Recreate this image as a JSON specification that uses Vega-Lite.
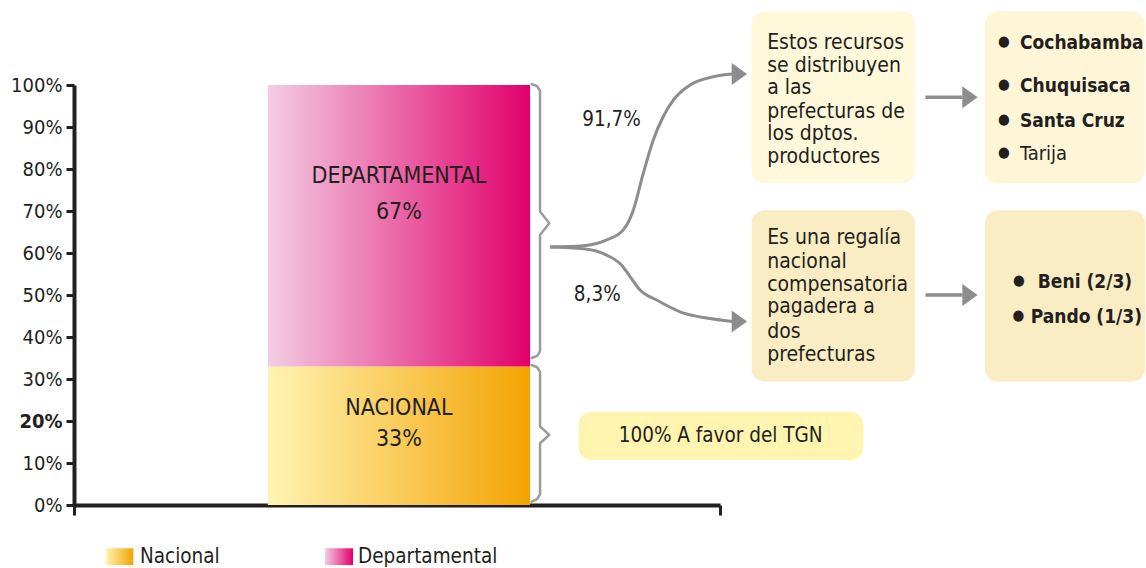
{
  "$schema": "https://vega.github.io/schema/vega-lite/v6.json",
  "width": 646,
  "height": 420,
  "autosize": {"type": "none"},
  "padding": {"left": 74, "top": 85, "right": 426, "bottom": 63},
  "background": "white",
  "config": {
    "view": {"stroke": null},
    "font": "DejaVu Sans Condensed, Liberation Sans, sans-serif",
    "text": {"font": "DejaVu Sans Condensed, Liberation Sans, sans-serif", "fontSize": 21, "color": "#231f20", "baseline": "middle"}
  },
  "datasets": {
    "boxes": [
      {"id": "recursos", "x": 104.9, "x2": 130.2, "y": 76.6, "y2": 117.5},
      {"id": "deptos", "x": 141.0, "x2": 165.8, "y": 76.6, "y2": 117.5},
      {"id": "regalia", "x": 104.9, "x2": 130.2, "y": 29.4, "y2": 70.2},
      {"id": "beni", "x": 141.0, "x2": 165.8, "y": 29.4, "y2": 70.2},
      {"id": "tgn", "x": 78.1, "x2": 122.2, "y": 10.7, "y2": 22.2}
    ],
    "bars": [
      {"segment": "Nacional", "from": 0, "to": 33},
      {"segment": "Departamental", "from": 33, "to": 100}
    ],
    "barLabels": [
      {"text": "DEPARTAMENTAL", "x": 50.3, "y": 78.3},
      {"text": "67%", "x": 50.3, "y": 69.8},
      {"text": "NACIONAL", "x": 50.3, "y": 23.1},
      {"text": "33%", "x": 50.3, "y": 15.7}
    ],
    "braces": [
      {"brace": "D", "i": 0, "x": 70.85, "y": 100.2},
      {"brace": "D", "i": 1, "x": 71.7, "y": 99.7},
      {"brace": "D", "i": 2, "x": 72.14, "y": 98.6},
      {"brace": "D", "i": 3, "x": 72.14, "y": 69.9},
      {"brace": "D", "i": 4, "x": 73.58, "y": 67.1},
      {"brace": "D", "i": 5, "x": 72.14, "y": 64.3},
      {"brace": "D", "i": 6, "x": 72.14, "y": 36.6},
      {"brace": "D", "i": 7, "x": 71.7, "y": 35.5},
      {"brace": "D", "i": 8, "x": 70.85, "y": 35.0},
      {"brace": "N", "i": 0, "x": 70.85, "y": 33.3},
      {"brace": "N", "i": 1, "x": 71.7, "y": 32.8},
      {"brace": "N", "i": 2, "x": 72.14, "y": 31.7},
      {"brace": "N", "i": 3, "x": 72.14, "y": 18.7},
      {"brace": "N", "i": 4, "x": 73.58, "y": 16.7},
      {"brace": "N", "i": 5, "x": 72.14, "y": 14.7},
      {"brace": "N", "i": 6, "x": 72.14, "y": 2.6},
      {"brace": "N", "i": 7, "x": 71.7, "y": 1.4},
      {"brace": "N", "i": 8, "x": 70.85, "y": 0.8}
    ],
    "flows": [
      {"flow": "up", "i": 0, "x": 73.68, "y": 61.4},
      {"flow": "up", "i": 1, "x": 78.84, "y": 61.7},
      {"flow": "up", "i": 2, "x": 82.46, "y": 63.1},
      {"flow": "up", "i": 3, "x": 85.03, "y": 65.5},
      {"flow": "up", "i": 4, "x": 86.58, "y": 70.2},
      {"flow": "up", "i": 5, "x": 88.13, "y": 79.0},
      {"flow": "up", "i": 6, "x": 89.67, "y": 86.9},
      {"flow": "up", "i": 7, "x": 91.22, "y": 92.5},
      {"flow": "up", "i": 8, "x": 92.77, "y": 96.4},
      {"flow": "up", "i": 9, "x": 95.36, "y": 100.0},
      {"flow": "up", "i": 10, "x": 98.96, "y": 101.97},
      {"flow": "up", "i": 11, "x": 101.9, "y": 102.6},
      {"flow": "down", "i": 0, "x": 73.68, "y": 61.4},
      {"flow": "down", "i": 1, "x": 78.84, "y": 61.0},
      {"flow": "down", "i": 2, "x": 82.46, "y": 59.5},
      {"flow": "down", "i": 3, "x": 84.78, "y": 57.1},
      {"flow": "down", "i": 4, "x": 86.07, "y": 54.4},
      {"flow": "down", "i": 5, "x": 87.62, "y": 51.2},
      {"flow": "down", "i": 6, "x": 90.2, "y": 48.8},
      {"flow": "down", "i": 7, "x": 93.81, "y": 46.0},
      {"flow": "down", "i": 8, "x": 97.94, "y": 44.5},
      {"flow": "down", "i": 9, "x": 101.9, "y": 43.7}
    ],
    "arrowheads": [
      {"x": 103.0, "y": 102.6},
      {"x": 103.0, "y": 43.7},
      {"x": 138.7, "y": 97.1},
      {"x": 138.7, "y": 50.0}
    ],
    "connectors": [
      {"x": 131.8, "x2": 137.5, "y": 97.1},
      {"x": 131.8, "x2": 137.5, "y": 50.0}
    ],
    "flowLabels": [
      {"text": "91,7%", "x": 83.2, "y": 91.7},
      {"text": "8,3%", "x": 81.0, "y": 50.0}
    ],
    "notes": [
      {"text": "Estos recursos", "x": 107.3, "y": 109.9},
      {"text": "se distribuyen", "x": 107.3, "y": 104.5},
      {"text": "a las", "x": 107.3, "y": 99.2},
      {"text": "prefecturas de", "x": 107.3, "y": 93.6},
      {"text": "los dptos.", "x": 107.3, "y": 88.3},
      {"text": "productores", "x": 107.3, "y": 82.9},
      {"text": "Es una regalía", "x": 107.3, "y": 63.5},
      {"text": "nacional", "x": 107.3, "y": 57.9},
      {"text": "compensatoria", "x": 107.3, "y": 52.4},
      {"text": "pagadera a", "x": 107.3, "y": 47.1},
      {"text": "dos", "x": 107.3, "y": 41.3},
      {"text": "prefecturas", "x": 107.3, "y": 35.7}
    ],
    "bullets": [
      {"x": 143.96, "y": 109.9},
      {"x": 143.96, "y": 99.7},
      {"x": 143.96, "y": 91.4},
      {"x": 143.96, "y": 83.5},
      {"x": 146.28, "y": 53.1},
      {"x": 146.2, "y": 44.8}
    ],
    "bulletsBold": [
      {"text": "Cochabamba", "x": 146.44, "y": 109.9},
      {"text": "Chuquisaca", "x": 146.44, "y": 99.7},
      {"text": "Santa Cruz", "x": 146.44, "y": 91.4},
      {"text": "Beni (2/3)", "x": 149.2, "y": 53.1},
      {"text": "Pando (1/3)", "x": 148.1, "y": 44.8}
    ],
    "bulletsNormal": [
      {"text": "Tarija", "x": 146.44, "y": 83.5}
    ],
    "tgn": [
      {"text": "100% A favor del TGN", "x": 100.1, "y": 16.4}
    ],
    "legend": [
      {"serie": "Nacional", "x": 4.95, "x2": 9.18, "y": -14.3, "y2": -10.3, "tx": 10.2, "ty": -12.3},
      {"serie": "Departamental", "x": 38.85, "x2": 43.2, "y": -14.3, "y2": -10.3, "tx": 43.96, "ty": -12.3}
    ]
  },
  "layer": [
    {
      "data": {"name": "boxes"},
      "mark": {"type": "rect", "cornerRadius": 13},
      "encoding": {
        "x": {
          "field": "x", "type": "quantitative", "title": null,
          "scale": {"domain": [0, 100], "nice": false, "zero": false},
          "axis": {"values": [0, 100], "labels": false, "grid": false, "title": null,
                   "domainColor": "#231f20", "domainWidth": 4, "tickColor": "#231f20", "tickWidth": 3, "tickSize": 10}
        },
        "x2": {"field": "x2"},
        "y": {
          "field": "y", "type": "quantitative", "title": null,
          "scale": {"domain": [0, 100], "nice": false, "zero": false},
          "axis": {"values": [0, 10, 20, 30, 40, 50, 60, 70, 80, 90, 100], "labelExpr": "datum.value + '%'",
                   "grid": false, "title": null, "labelFlush": false, "labelOverlap": false,
                   "labelFont": "DejaVu Sans Condensed, Liberation Sans, sans-serif",
                   "labelFontSize": 20, "labelColor": "#231f20", "labelPadding": 4,
                   "labelFontWeight": {"condition": {"test": "datum.value === 20", "value": "bold"}, "value": "normal"},
                   "domainColor": "#231f20", "domainWidth": 4, "tickColor": "#231f20", "tickWidth": 3, "tickSize": 8}
        },
        "y2": {"field": "y2"},
        "fill": {"field": "id", "type": "nominal", "legend": null,
                 "scale": {"domain": ["recursos", "deptos", "regalia", "beni", "tgn"],
                           "range": ["#fff8da", "#fff6d8", "#faedc3", "#faedc3", "#fff4b0"]}}
      }
    },
    {
      "data": {"name": "bars"},
      "transform": [{"filter": "datum.segment === 'Nacional'"}],
      "mark": {"type": "rect", "fill": {"gradient": "linear", "x1": 0, "y1": 0, "x2": 1, "y2": 0,
               "stops": [{"offset": 0, "color": "#fff4b4"}, {"offset": 1, "color": "#f4a300"}]}},
      "encoding": {
        "x": {"datum": 30.0, "type": "quantitative"},
        "x2": {"datum": 70.6},
        "y": {"field": "from", "type": "quantitative"},
        "y2": {"field": "to"}
      }
    },
    {
      "data": {"name": "bars"},
      "transform": [{"filter": "datum.segment === 'Departamental'"}],
      "mark": {"type": "rect", "fill": {"gradient": "linear", "x1": 0, "y1": 0, "x2": 1, "y2": 0,
               "stops": [{"offset": 0, "color": "#f3cde3"}, {"offset": 1, "color": "#e2006b"}]}},
      "encoding": {
        "x": {"datum": 30.0, "type": "quantitative"},
        "x2": {"datum": 70.6},
        "y": {"field": "from", "type": "quantitative"},
        "y2": {"field": "to"}
      }
    },
    {
      "data": {"name": "braces"},
      "mark": {"type": "line", "stroke": "#9b9b9b", "strokeWidth": 2.5, "strokeJoin": "round", "strokeCap": "round"},
      "encoding": {
        "x": {"field": "x", "type": "quantitative"},
        "y": {"field": "y", "type": "quantitative"},
        "detail": {"field": "brace"},
        "order": {"field": "i", "type": "quantitative"}
      }
    },
    {
      "data": {"name": "flows"},
      "mark": {"type": "line", "stroke": "#8d8d8d", "strokeWidth": 3, "interpolate": "monotone"},
      "encoding": {
        "x": {"field": "x", "type": "quantitative"},
        "y": {"field": "y", "type": "quantitative"},
        "detail": {"field": "flow"},
        "order": {"field": "i", "type": "quantitative"}
      }
    },
    {
      "data": {"name": "connectors"},
      "mark": {"type": "rule", "stroke": "#8d8d8d", "strokeWidth": 3.5},
      "encoding": {
        "x": {"field": "x", "type": "quantitative"},
        "x2": {"field": "x2"},
        "y": {"field": "y", "type": "quantitative"}
      }
    },
    {
      "data": {"name": "arrowheads"},
      "mark": {"type": "point", "shape": "M-0.7,-1L0.7,0L-0.7,1Z", "size": 484, "filled": true, "fill": "#8d8d8d", "opacity": 1, "strokeWidth": 0},
      "encoding": {
        "x": {"field": "x", "type": "quantitative"},
        "y": {"field": "y", "type": "quantitative"}
      }
    },
    {
      "data": {"name": "barLabels"},
      "mark": {"type": "text", "align": "center", "fontSize": 23},
      "encoding": {
        "x": {"field": "x", "type": "quantitative"},
        "y": {"field": "y", "type": "quantitative"},
        "text": {"field": "text"}
      }
    },
    {
      "data": {"name": "flowLabels"},
      "mark": {"type": "text", "align": "center", "fontSize": 20.5},
      "encoding": {
        "x": {"field": "x", "type": "quantitative"},
        "y": {"field": "y", "type": "quantitative"},
        "text": {"field": "text"}
      }
    },
    {
      "data": {"name": "notes"},
      "mark": {"type": "text", "align": "left", "fontSize": 21},
      "encoding": {
        "x": {"field": "x", "type": "quantitative"},
        "y": {"field": "y", "type": "quantitative"},
        "text": {"field": "text"}
      }
    },
    {
      "data": {"name": "bullets"},
      "mark": {"type": "text", "text": "●", "align": "center", "fontSize": 15, "dy": -2},
      "encoding": {
        "x": {"field": "x", "type": "quantitative"},
        "y": {"field": "y", "type": "quantitative"}
      }
    },
    {
      "data": {"name": "bulletsBold"},
      "mark": {"type": "text", "align": "left", "fontWeight": "bold", "fontSize": 19},
      "encoding": {
        "x": {"field": "x", "type": "quantitative"},
        "y": {"field": "y", "type": "quantitative"},
        "text": {"field": "text"}
      }
    },
    {
      "data": {"name": "bulletsNormal"},
      "mark": {"type": "text", "align": "left", "fontSize": 20},
      "encoding": {
        "x": {"field": "x", "type": "quantitative"},
        "y": {"field": "y", "type": "quantitative"},
        "text": {"field": "text"}
      }
    },
    {
      "data": {"name": "tgn"},
      "mark": {"type": "text", "align": "center", "fontSize": 20.5},
      "encoding": {
        "x": {"field": "x", "type": "quantitative"},
        "y": {"field": "y", "type": "quantitative"},
        "text": {"field": "text"}
      }
    },
    {
      "data": {"name": "legend"},
      "transform": [{"filter": "datum.serie === 'Nacional'"}],
      "mark": {"type": "rect", "fill": {"gradient": "linear", "x1": 0, "y1": 0, "x2": 1, "y2": 0,
               "stops": [{"offset": 0, "color": "#fff4b4"}, {"offset": 1, "color": "#f4a300"}]}},
      "encoding": {
        "x": {"field": "x", "type": "quantitative"},
        "x2": {"field": "x2"},
        "y": {"field": "y", "type": "quantitative"},
        "y2": {"field": "y2"}
      }
    },
    {
      "data": {"name": "legend"},
      "transform": [{"filter": "datum.serie === 'Departamental'"}],
      "mark": {"type": "rect", "fill": {"gradient": "linear", "x1": 0, "y1": 0, "x2": 1, "y2": 0,
               "stops": [{"offset": 0, "color": "#f3cde3"}, {"offset": 1, "color": "#e2006b"}]}},
      "encoding": {
        "x": {"field": "x", "type": "quantitative"},
        "x2": {"field": "x2"},
        "y": {"field": "y", "type": "quantitative"},
        "y2": {"field": "y2"}
      }
    },
    {
      "data": {"name": "legend"},
      "mark": {"type": "text", "align": "left", "fontSize": 20.5},
      "encoding": {
        "x": {"field": "tx", "type": "quantitative"},
        "y": {"field": "ty", "type": "quantitative"},
        "text": {"field": "serie"}
      }
    }
  ]
}
